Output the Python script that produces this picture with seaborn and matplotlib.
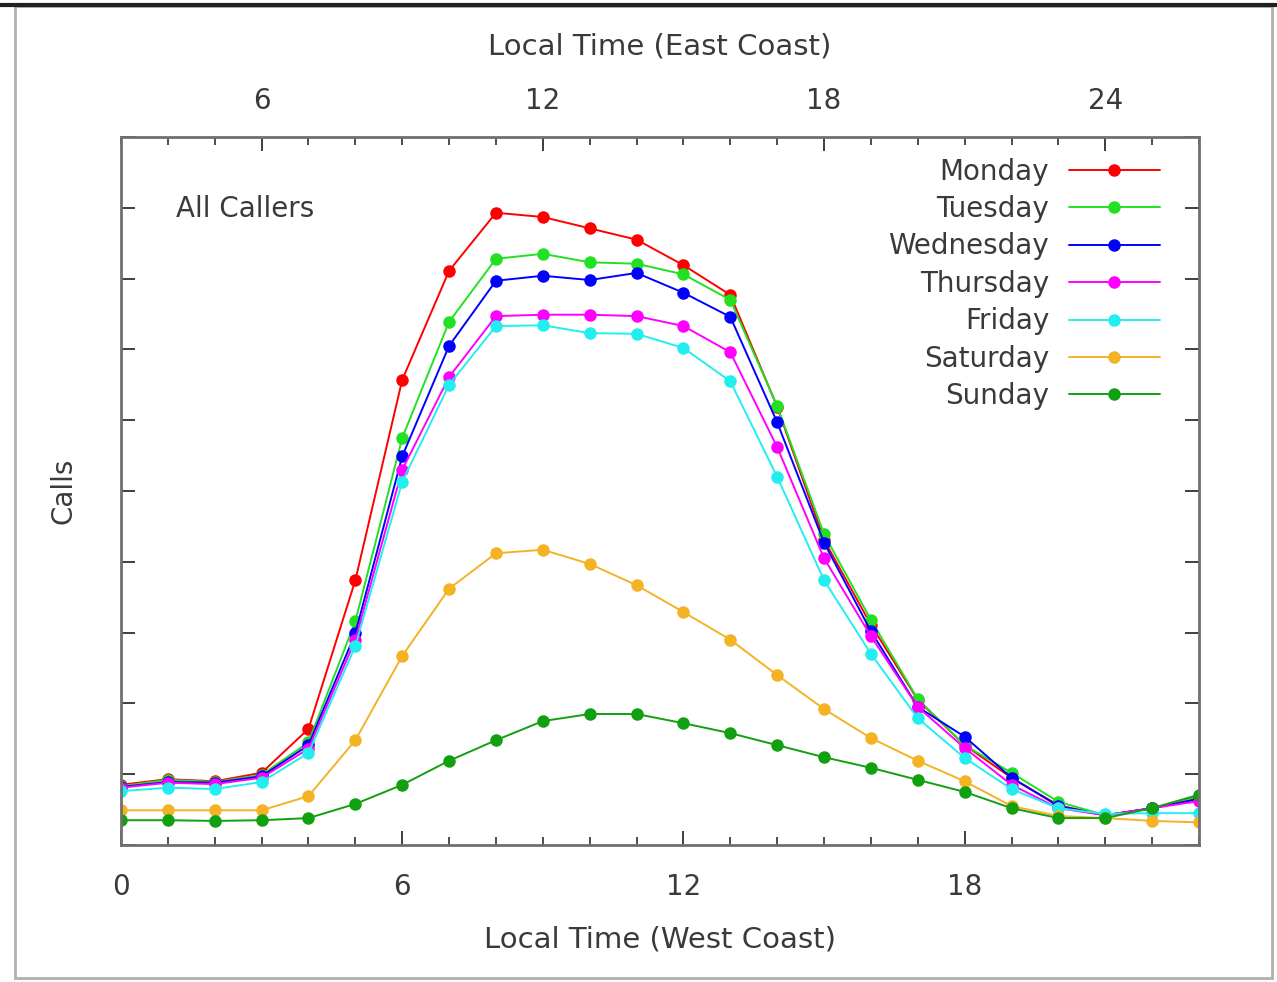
import pandas as pd
import matplotlib.pyplot as plt
import seaborn as sns
from matplotlib.patches import Rectangle
from matplotlib.lines import Line2D
from matplotlib.ticker import MultipleLocator, FixedLocator

# hourly call volume (arbitrary units) by day of week
hours = list(range(24))
days = ["Monday", "Tuesday", "Wednesday", "Thursday", "Friday", "Saturday", "Sunday"]
east_ticks = [6, 12, 18, 24]

monday = [0.85, 0.93, 0.90, 1.02, 1.64, 3.74, 6.57, 8.11, 8.93, 8.87, 8.71, 8.55,
          8.19, 7.77, 6.19, 4.31, 3.11, 2.05, 1.41, 0.95, 0.56, 0.42, 0.52, 0.66]
tuesday = [0.83, 0.92, 0.89, 0.99, 1.45, 3.16, 5.75, 7.39, 8.28, 8.35, 8.23, 8.21,
           8.06, 7.70, 6.20, 4.39, 3.18, 2.06, 1.41, 1.02, 0.61, 0.42, 0.52, 0.69]
wednesday = [0.82, 0.89, 0.88, 0.97, 1.41, 2.99, 5.49, 7.05, 7.97, 8.04, 7.98, 8.08,
             7.80, 7.46, 5.97, 4.27, 3.02, 1.95, 1.53, 0.95, 0.55, 0.42, 0.52, 0.65]
thursday = [0.81, 0.88, 0.86, 0.95, 1.36, 2.90, 5.30, 6.61, 7.47, 7.49, 7.49, 7.47,
            7.33, 6.96, 5.62, 4.05, 2.95, 1.95, 1.37, 0.85, 0.52, 0.42, 0.52, 0.62]
friday = [0.76, 0.81, 0.79, 0.89, 1.30, 2.81, 5.13, 6.50, 7.33, 7.34, 7.23, 7.22,
          7.02, 6.55, 5.20, 3.74, 2.70, 1.79, 1.23, 0.79, 0.52, 0.44, 0.45, 0.45]
saturday = [0.49, 0.49, 0.49, 0.49, 0.69, 1.48, 2.67, 3.62, 4.12, 4.17, 3.97, 3.67,
            3.29, 2.90, 2.40, 1.92, 1.51, 1.19, 0.90, 0.55, 0.41, 0.38, 0.34, 0.32]
sunday = [0.35, 0.35, 0.34, 0.35, 0.38, 0.58, 0.85, 1.19, 1.48, 1.75, 1.85, 1.85,
          1.72, 1.58, 1.41, 1.24, 1.09, 0.92, 0.75, 0.52, 0.38, 0.38, 0.52, 0.71]

colors = ["#ff0000", "#22e022", "#0000ff", "#ff00ff", "#22eef0", "#f4b225", "#10a010"]

series = [monday, tuesday, wednesday, thursday, friday, saturday, sunday]
df = pd.concat(
    [pd.DataFrame({"hour": hours, "calls": vals, "day": d}) for d, vals in zip(days, series)],
    ignore_index=True,
)

sns.set_style("ticks")
plt.rcParams["font.family"] = ["DejaVu Sans"]
txt = "#3a3a3a"
edge = "#707070"

fig = plt.figure(figsize=(12.77, 9.82), dpi=100)
ax = fig.add_axes([121 / 1277, 1 - 845 / 982, 1078 / 1277, 708 / 982])

sns.lineplot(data=df, x="hour", y="calls", hue="day", hue_order=days,
             palette=dict(zip(days, colors)), marker="o", markersize=9,
             markeredgewidth=0, linewidth=1.4, ax=ax)

ax.set_xlim(0, 23)
ax.set_ylim(0, 10)
ax.xaxis.set_major_locator(MultipleLocator(6))
ax.xaxis.set_minor_locator(MultipleLocator(1))
ax.yaxis.set_major_locator(MultipleLocator(1))
ax.set_yticklabels([])
ax.tick_params(axis="both", which="major", direction="in", length=10, width=1.3,
               color="#303030", top=False, right=True, labelsize=20, labelcolor=txt, pad=20)
ax.tick_params(axis="x", which="minor", direction="in", length=6, width=1.2,
               color="#303030", top=False)
for s in ax.spines.values():
    s.set_color(edge)
    s.set_linewidth(2)

ax.set_xlabel("Local Time (West Coast)", fontsize=21, color=txt, labelpad=18)
ax.set_ylabel("Calls", fontsize=20, color=txt, labelpad=11)

# east coast is three hours ahead
sec = ax.secondary_xaxis("top", functions=(lambda x: x + 3, lambda x: x - 3))
sec.xaxis.set_major_locator(FixedLocator(east_ticks))
sec.xaxis.set_minor_locator(FixedLocator([h + 3 for h in hours]))
sec.tick_params(axis="x", which="major", direction="in", length=10, width=1.3,
                color="#303030", labelsize=20, labelcolor=txt, pad=16)
sec.tick_params(axis="x", which="minor", direction="in", length=6, width=1.2, color="#303030")
sec.spines["top"].set_visible(False)
sec.set_xlabel("Local Time (East Coast)", fontsize=21, color=txt, labelpad=23)

ax.text(0.051, 0.899, "All Callers", transform=ax.transAxes, fontsize=20,
        color=txt, ha="left", va="center")

handles, labels = ax.get_legend_handles_labels()
ax.legend(handles, labels, loc="upper right", bbox_to_anchor=(0.964, 0.971),
          markerfirst=False, frameon=False, fontsize=20, labelcolor=txt,
          handlelength=3.3, handletextpad=0.7, labelspacing=0.34,
          borderpad=0, borderaxespad=0)

# image frame
fig.patches.append(Rectangle((15 / 1277, 4 / 982), 1257 / 1277, 972 / 982,
                             transform=fig.transFigure, fill=False,
                             edgecolor="#b0b0b0", linewidth=2))
fig.lines.append(Line2D([0, 1], [1 - 5 / 982, 1 - 5 / 982], transform=fig.transFigure,
                        color="#202020", linewidth=3))

fig.savefig("out.png", dpi=100)
